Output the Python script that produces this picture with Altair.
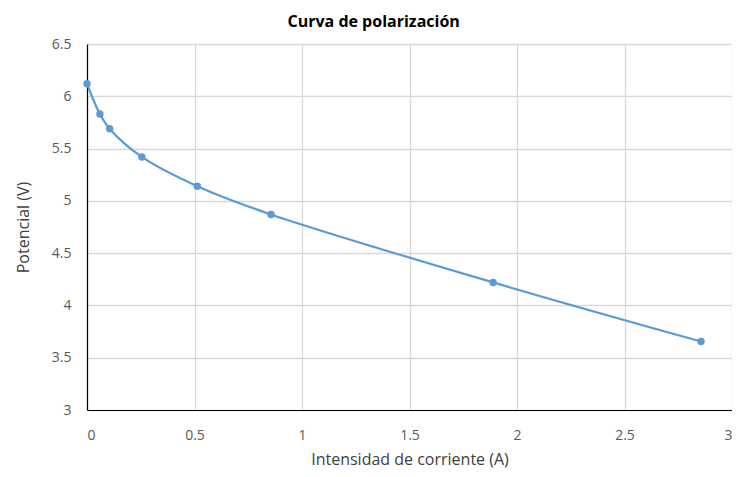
import altair as alt
import pandas as pd

corriente = [0.0, 0.06, 0.105, 0.255, 0.513, 0.856, 1.889, 2.856]
potencial = [6.12, 5.83, 5.69, 5.42, 5.14, 4.87, 4.22, 3.655]

df = pd.DataFrame({"I": corriente, "V": potencial})

FONT = "Open Sans"
x = alt.X("I:Q", title="Intensidad de corriente (A)",
          scale=alt.Scale(domain=[0, 3], nice=False),
          axis=alt.Axis(values=[0, 0.5, 1, 1.5, 2, 2.5, 3], format="~g",
                        labelPadding=18, titlePadding=9))
y = alt.Y("V:Q", title="Potencial (V)",
          scale=alt.Scale(domain=[3, 6.5], nice=False, zero=False),
          axis=alt.Axis(values=[3, 3.5, 4, 4.5, 5, 5.5, 6, 6.5], format="~g",
                        labelPadding=16, titlePadding=20))

line = alt.Chart(df).mark_line(interpolate="catmull-rom", color="#5B9BD5", strokeWidth=2.2).encode(x=x, y=y)
pts = alt.Chart(df).mark_circle(color="#5B9BD5", size=55, opacity=1).encode(x=x, y=y)

chart = (line + pts).properties(
    width=645, height=366,
    title=alt.TitleParams("Curva de polarización", fontSize=16, font=FONT, fontWeight="bold",
                          color="#000000", frame="bounds", anchor="middle", offset=7),
    autosize=alt.AutoSizeParams(type="none"),
    padding={"left": 79, "top": 36, "right": 0, "bottom": 59},
).configure_view(stroke=None).configure_axis(
    labelFont=FONT, titleFont=FONT, labelFontSize=14, titleFontSize=16,
    labelColor="#595959", titleColor="#404040", titleFontWeight="normal",
    grid=True, gridColor="#D9D9D9", gridWidth=1.3, ticks=False,
    domainColor="#000000", domainWidth=1.2,
).configure_axisX(domain=True).configure_axisY(domain=True)

chart.save("out.html", embed_options={"renderer": "svg", "actions": False})
